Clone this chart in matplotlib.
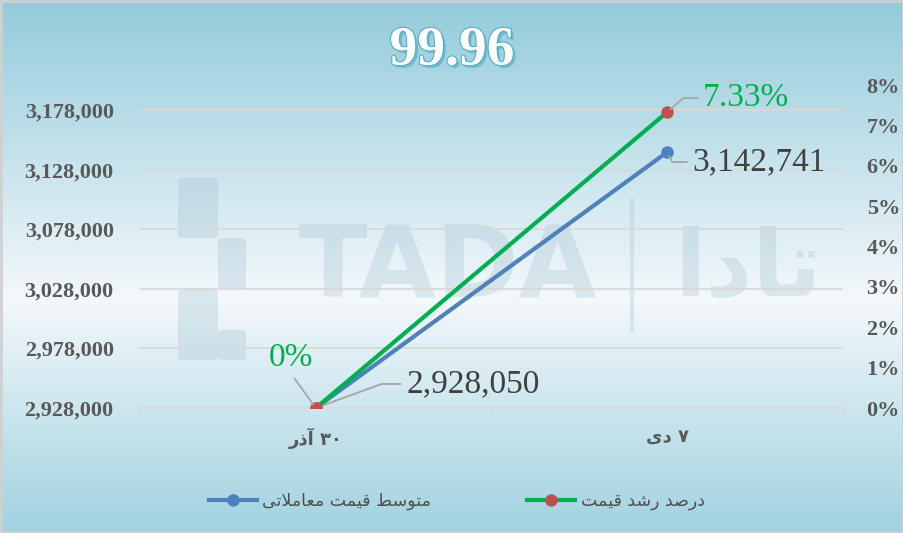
import numpy as np
import matplotlib
matplotlib.use('Agg')
import matplotlib.pyplot as plt
import matplotlib.patheffects as pe
from matplotlib.colors import LinearSegmentedColormap
from matplotlib.lines import Line2D
from matplotlib.patches import FancyBboxPatch
from matplotlib.ticker import FuncFormatter


# data
categories = ['۳۰ آذر', '۷ دی']
avg_price = [2928050, 3142741]
growth_pct = [0.0, 7.33]
left_ticks = [2928000, 2978000, 3028000, 3078000, 3128000, 3178000]
right_ticks = [0, 1, 2, 3, 4, 5, 6, 7, 8]
title_text = '99.96'
name_price = 'متوسط قیمت معاملاتی'
name_growth = 'درصد رشد قیمت'
watermark = 'TADA'
watermark_fa = 'تادا'


# matplotlib has no arabic shaping, so pick the presentation forms by hand
FORMS = {
    'ا': ('\uFE8D', '\uFE8E', None, None),
    'آ': ('\uFE81', '\uFE82', None, None),
    'ت': ('\uFE95', '\uFE96', '\uFE97', '\uFE98'),
    'د': ('\uFEA9', '\uFEAA', None, None),
    'ذ': ('\uFEAB', '\uFEAC', None, None),
    'ر': ('\uFEAD', '\uFEAE', None, None),
    'س': ('\uFEB1', '\uFEB2', '\uFEB3', '\uFEB4'),
    'ش': ('\uFEB5', '\uFEB6', '\uFEB7', '\uFEB8'),
    'ص': ('\uFEB9', '\uFEBA', '\uFEBB', '\uFEBC'),
    'ط': ('\uFEC1', '\uFEC2', '\uFEC3', '\uFEC4'),
    'ع': ('\uFEC9', '\uFECA', '\uFECB', '\uFECC'),
    'ق': ('\uFED5', '\uFED6', '\uFED7', '\uFED8'),
    'ل': ('\uFEDD', '\uFEDE', '\uFEDF', '\uFEE0'),
    'م': ('\uFEE1', '\uFEE2', '\uFEE3', '\uFEE4'),
    'و': ('\uFEED', '\uFEEE', None, None),
    'ی': ('\uFEEF', '\uFEF0', '\uFEF3', '\uFEF4'),
}


def shape_word(w):
    res = []
    prev_joins = False
    i = 0
    while i < len(w):
        c = w[i]
        nxt = w[i + 1] if i + 1 < len(w) else None
        if c == 'ل' and nxt in ('ا', 'آ'):
            lig = ('\uFEFB', '\uFEFC') if nxt == 'ا' else ('\uFEF5', '\uFEF6')
            res.append(lig[1] if prev_joins else lig[0])
            prev_joins = False
            i += 2
            continue
        f = FORMS.get(c)
        if f is None:
            res.append(c)
            prev_joins = False
            i += 1
            continue
        next_ok = f[2] is not None and nxt in FORMS
        if prev_joins and next_ok:
            res.append(f[3])
        elif prev_joins:
            res.append(f[1])
        elif next_ok:
            res.append(f[2])
        else:
            res.append(f[0])
        prev_joins = next_ok
        i += 1
    return ''.join(res)


def rtl(s):
    out = []
    for w in reversed(s.split(' ')):
        if any(c in FORMS for c in w):
            out.append(shape_word(w)[::-1])
        else:
            out.append(w)
    return ' '.join(out)


BLUE = '#4F81BD'
GREEN = '#00B050'
RED = '#C0504D'
GRID = '#D9D9D9'
TICK = '#595959'
WM = '#9FBFD0'
SERIF = ['Liberation Serif', 'DejaVu Serif']
FA = ['DejaVu Sans']

fig = plt.figure(figsize=(9.04, 5.33), dpi=100)

# background gradient
bg = fig.add_axes([0, 0, 1, 1], zorder=-10)
cmap = LinearSegmentedColormap.from_list(
    'bg', [(0.0, '#93CBDB'), (0.56, '#F3F8FB'), (1.0, '#A1D2E0')])
grad = np.linspace(0, 1, 256).reshape(-1, 1)
bg.imshow(grad, aspect='auto', cmap=cmap, extent=[0, 1, 0, 1])
bg.set_xlim(0, 1)
bg.set_ylim(0, 1)
bg.axis('off')

# faint logo watermark
bg.text(0.495, 0.495, watermark, transform=bg.transAxes, ha='center', va='center',
        fontsize=72, fontweight='bold', family=['DejaVu Sans'], color=WM, alpha=0.3)
bg.plot([0.699, 0.699], [0.38, 0.625], color=WM, alpha=0.3, lw=3)
bg.text(0.827, 0.495, rtl(watermark_fa), transform=bg.transAxes, ha='center', va='center',
        fontsize=66, fontweight='bold', family=FA, color=WM, alpha=0.3)
for (x0, y0, w, h) in [(178, 178, 40, 60), (218, 238, 28, 51), (178, 289, 40, 71),
                       (218, 330, 28, 30)]:
    bg.add_patch(FancyBboxPatch((x0 / 904, 1 - (y0 + h) / 533), w / 904, h / 533,
                                boxstyle='round,pad=0,rounding_size=0.006',
                                facecolor=WM, edgecolor='none', alpha=0.3,
                                transform=bg.transAxes))
bg.add_patch(plt.Rectangle((0.0015, 0.002), 0.997, 0.996, fill=False,
                           edgecolor='#D0D0D0', lw=2, transform=bg.transAxes))

ax = fig.add_axes([0.1549, 0.2345, 0.7776, 0.606])
ax.patch.set_alpha(0)
x = np.arange(len(categories))

ax.plot(x, avg_price, color=BLUE, lw=3, marker='o', markersize=8,
        markerfacecolor=BLUE, markeredgecolor=BLUE, solid_capstyle='round', zorder=3)
ax.set_xlim(-0.5, len(categories) - 0.5)
ax.set_ylim(2928000, 3199000)
ax.set_yticks(left_ticks)
ax.yaxis.set_major_formatter(FuncFormatter(lambda v, p: f'{int(v):,}'))
ax.grid(axis='y', color=GRID, lw=1.3)
ax.set_axisbelow(True)
for s in ['top', 'right', 'left']:
    ax.spines[s].set_visible(False)
ax.spines['bottom'].set_color(GRID)
ax.spines['bottom'].set_linewidth(1.3)
ax.tick_params(axis='y', length=0, pad=19, labelsize=16, labelcolor=TICK)
for lab in ax.get_yticklabels():
    lab.set_family(SERIF)
    lab.set_fontweight('bold')
ax.set_xticks(x)
ax.set_xticklabels([rtl(c) for c in categories], family=FA, fontweight='bold',
                   fontsize=13, color=TICK)
ax.set_xticks(np.arange(len(categories) + 1) - 0.5, minor=True)
ax.tick_params(axis='x', which='major', length=0, pad=14)
ax.tick_params(axis='x', which='minor', length=6, color=GRID, width=1.3)

ax2 = ax.twinx()
ax2.plot(x, [g / 100 for g in growth_pct], color=GREEN, lw=3, marker='o', markersize=8,
         markerfacecolor=RED, markeredgecolor=RED, solid_capstyle='round', zorder=3)
ax2.set_ylim(0, 0.08)
ax2.set_yticks([t / 100 for t in right_ticks])
ax2.yaxis.set_major_formatter(FuncFormatter(lambda v, p: f'{v * 100:.0f}%'))
for s in ax2.spines.values():
    s.set_visible(False)
ax2.tick_params(axis='y', length=0, pad=17, labelsize=16, labelcolor=TICK)
for lab in ax2.get_yticklabels():
    lab.set_family(SERIF)
    lab.set_fontweight('bold')

# data labels with leader lines
lead = dict(arrowstyle='-', color='#A6A6A6', lw=1.3, shrinkA=2, shrinkB=3)
ax2.annotate(f'{growth_pct[1]:.2f}%', xy=(x[1], growth_pct[1] / 100), xytext=(36, 14),
             textcoords='offset pixels', ha='left', va='center', fontsize=24,
             family=SERIF, color=GREEN,
             arrowprops=dict(lead, relpos=(0, 0.5),
                             connectionstyle='angle,angleA=0,angleB=41,rad=0'))
ax2.annotate(f'{growth_pct[0]:.0f}%', xy=(x[0], growth_pct[0] / 100), xytext=(-25, 50),
             textcoords='offset pixels', ha='center', va='center', fontsize=24,
             family=SERIF, color=GREEN,
             arrowprops=dict(lead, relpos=(0.5, 0)))
ax.annotate(f'{avg_price[1]:,}', xy=(x[1], avg_price[1]), xytext=(92, -10),
            textcoords='offset pixels', ha='center', va='center', fontsize=24,
            family=SERIF, color='#404040',
            arrowprops=dict(lead, relpos=(0, 0.5),
                            connectionstyle='angle,angleA=0,angleB=-63,rad=0'))
ax.annotate(f'{avg_price[0]:,}', xy=(x[0], avg_price[0]), xytext=(157, 24),
            textcoords='offset pixels', ha='center', va='center', fontsize=24,
            family=SERIF, color='#404040',
            arrowprops=dict(lead, relpos=(0, 0.5),
                            connectionstyle='angle,angleA=0,angleB=20,rad=0'))

# title
fig.text(0.5, 0.905, title_text, ha='center', va='center', fontsize=40,
         fontweight='bold', family=SERIF, color='white',
         path_effects=[pe.withSimplePatchShadow(offset=(2, -2), shadow_rgbFace='#4BACC6',
                                                alpha=0.6),
                       pe.withStroke(linewidth=1.5, foreground='#4BACC6')])

# legend, blue item on the left
handles = [
    Line2D([], [], color=BLUE, lw=3, marker='o', markersize=8,
           markerfacecolor=BLUE, markeredgecolor=BLUE),
    Line2D([], [], color=GREEN, lw=3, marker='o', markersize=8,
           markerfacecolor=RED, markeredgecolor=RED),
]
fig.legend(handles, [rtl(name_price), rtl(name_growth)], loc='center',
           bbox_to_anchor=(0.505, 0.06), ncol=2, frameon=False,
           handlelength=2.8, columnspacing=5.5, handletextpad=0.3,
           prop=dict(family=FA, size=12.5), labelcolor='#4D4D4D')

fig.savefig('out.png', dpi=100)
